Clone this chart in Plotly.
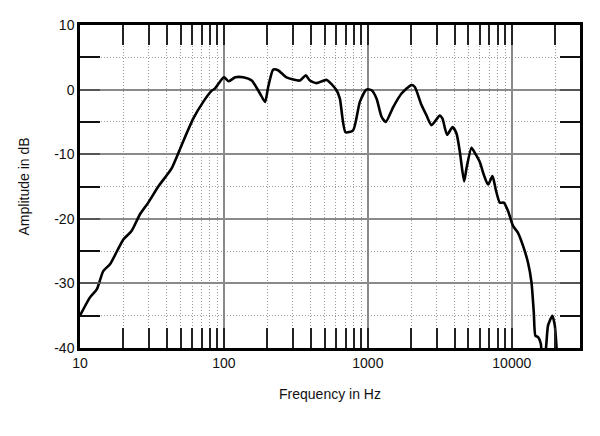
import plotly.graph_objects as go

freq = [10, 11.7, 13.1, 14.5, 16.2, 20, 22.8, 26.1, 29.8, 35, 43.3, 50.8, 61.2, 71.8, 82, 86.5,
        100, 108, 120, 136, 156, 178, 193, 203, 220, 238, 272, 337, 371, 395, 440, 517, 606, 639,
        700, 790, 880, 978, 1062, 1150, 1245, 1333, 1500, 1714, 2010, 2120, 2360, 2556, 2770,
        3160, 3300, 3555, 3875, 4130, 4355, 4665, 4845, 5250, 5535, 5995, 6395, 6845, 7340, 7745,
        8260, 8800, 9420, 10200, 11070, 11980, 12970, 13700, 14220, 14600, 15230, 15900, 16500,
        17400, 17870, 19150, 19900, 20420, 21000]
amp = [-35.0, -32.2, -30.9, -28.1, -27.0, -23.2, -21.9, -19.3, -17.5, -15.0, -12.2, -8.6, -4.5, -1.9, -0.2, 0.15,
       1.9, 1.3, 1.9, 1.9, 1.4, -0.6, -1.9, 0.4, 3.1, 3.0, 1.9, 1.4, 2.2, 1.4, 1.0, 1.5, -0.1, -1.4,
       -6.6, -6.3, -1.9, 0.0, -0.1, -1.4, -4.2, -5.0, -2.7, -0.6, 0.7, 0.4, -2.4, -4.0, -5.5,
       -4.0, -4.5, -7.0, -5.8, -6.8, -9.6, -14.2, -12.2, -9.0, -9.8, -11.2, -13.2, -14.7, -13.4, -15.5,
       -17.5, -17.5, -18.8, -21.1, -22.2, -24.2, -26.8, -29.8, -34.5, -38.1, -38.3, -39.3, -45,
       -39.3, -36.5, -35.0, -36.5, -39.6, -45]

x_major = [10, 100, 1000, 10000]
x_major_text = ["10", "100", "1000", "10000"]
x_minor = [m * d for d in (10, 100, 1000) for m in range(2, 10)] + [20000]
y_major = [-40, -30, -20, -10, 0, 10]
y_major_text = ["-40", "-30", "-20", "-10", "0", "10"]
y_minor = [-35, -25, -15, -5, 5]

font = dict(family="Liberation Sans, Arial, Helvetica, sans-serif", size=14, color="#111")

fig = go.Figure()
fig.add_trace(go.Scatter(x=freq, y=amp, mode="lines",
                         line=dict(color="black", width=2.6, shape="spline", smoothing=0.6),
                         showlegend=False, hoverinfo="skip"))

fig.update_layout(
    width=600, height=436,
    margin=dict(l=80, r=20, t=25, b=88),
    paper_bgcolor="white", plot_bgcolor="white",
    font=font,
    xaxis=dict(
        type="log", range=[1, 4.474],
        tickmode="array", tickvals=x_major, ticktext=x_major_text,
        ticks="inside", ticklen=20, tickwidth=1.5, tickcolor="#222",
        showgrid=True, gridcolor="#8a8a8a", gridwidth=1.5,
        minor=dict(tickmode="array", tickvals=x_minor, ticks="inside", ticklen=20,
                   tickwidth=1.5, tickcolor="#222", showgrid=True,
                   gridcolor="#9a9a9a", griddash="1px,2px", gridwidth=1),
        showline=True, linecolor="black", linewidth=2.5, mirror="allticks",
        zeroline=False,
        title=dict(text="Frequency in Hz", font=font, standoff=20),
        tickfont=font,
    ),
    yaxis=dict(
        range=[-40, 10],
        tickmode="array", tickvals=y_major, ticktext=y_major_text,
        ticks="inside", ticklen=20, tickwidth=2, tickcolor="#555",
        showgrid=True, gridcolor="#8a8a8a", gridwidth=1.5,
        minor=dict(tickmode="array", tickvals=y_minor, ticks="inside", ticklen=20,
                   tickwidth=1.5, tickcolor="#111", showgrid=True,
                   gridcolor="#9a9a9a", griddash="1px,2px", gridwidth=1),
        showline=True, linecolor="black", linewidth=2.5, mirror="allticks",
        zeroline=False,
        title=dict(text="Amplitude in dB", font=font, standoff=22),
        tickfont=font,
    ),
)

fig.write_html("out.html")
